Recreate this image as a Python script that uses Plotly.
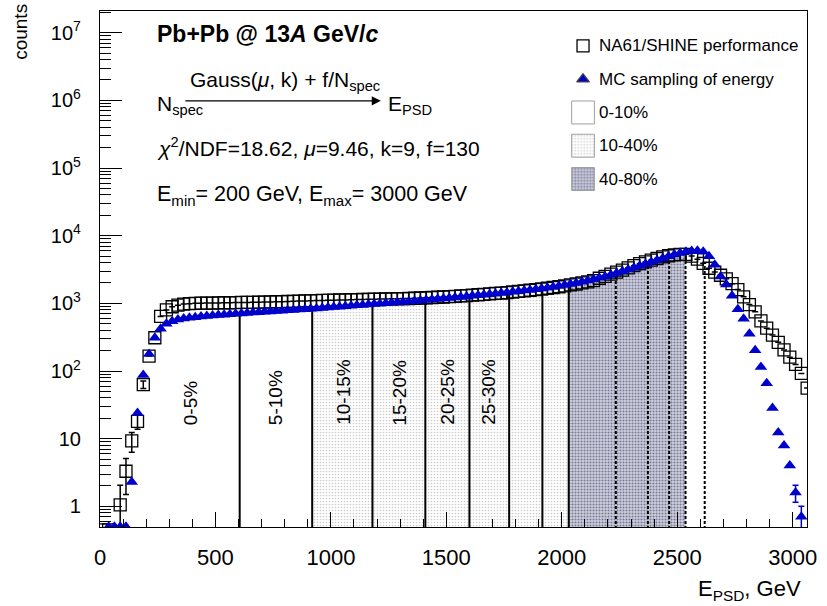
import numpy as np
import plotly.graph_objects as go

# ---------------- data ----------------
BIN_WIDTH = 25.0
N_BINS = 123
E = np.array([12.5 + BIN_WIDTH * i for i in range(N_BINS)])  # bin centres, GeV

DATA = [
    0.45, 0.45, None, 1.05, 3.3, 9.3, 18, 63, 166, 310,
    640, 800, 890, 940, 975, 990, 1000, 1005, 1010, 1010,
    1015, 1020, 1020, 1025, 1030, 1030, 1035, 1040, 1045, 1050,
    1055, 1060, 1065, 1070, 1080, 1085, 1090, 1100, 1105, 1110,
    1115, 1120, 1125, 1130, 1135, 1140, 1145, 1150, 1155, 1160,
    1165, 1170, 1175, 1180, 1190, 1200, 1210, 1220, 1230, 1240,
    1255, 1270, 1285, 1300, 1320, 1340, 1360, 1380, 1400, 1420,
    1445, 1470, 1500, 1530, 1560, 1595, 1630, 1670, 1715, 1760,
    1810, 1870, 1930, 2000, 2080, 2170, 2350, 2500, 2700, 2900,
    3100, 3350, 3600, 3850, 4100, 4350, 4600, 4850, 5050, 5200,
    5300, 5300, 5000, 4500, 3900, 3300, 2900, 2600, 2300, 1950,
    1600, 1250, 960, 750, 550, 430, 340, 265, 205, 160,
    125, 92, 56,
]
DATA_ERR_LOW = [0, 0, 0, 1.0, 1.8, 3.0, 4.2, 8.0]

MC = [
    None, 0.5, 0.5, 0.5, 0.5, 2.3, 24, 87, 178, 310,
    420, 500, 545, 575, 595, 612, 625, 638, 650, 660,
    670, 680, 690, 700, 710, 720, 730, 740, 750, 760,
    770, 780, 790, 800, 810, 820, 830, 842, 855, 868,
    880, 893, 906, 920, 934, 948, 962, 976, 990, 1005,
    1020, 1035, 1050, 1065, 1080, 1100, 1120, 1140, 1160, 1180,
    1200, 1220, 1240, 1265, 1290, 1315, 1340, 1365, 1390, 1420,
    1450, 1480, 1510, 1545, 1580, 1620, 1660, 1705, 1750, 1800,
    1860, 1925, 2000, 2080, 2170, 2270, 2380, 2500, 2640, 2800,
    2970, 3150, 3350, 3580, 3820, 4080, 4350, 4650, 4950, 5250,
    5550, 5800, 5950, 6000, 5800, 4950, 3720, 2500, 1900, 1290,
    820, 590, 355, 203, 115, 66, 28.5, 12.3, 7.9, 4.0,
    1.6, 0.7, None,
]
MC_ERR_TAIL = [0, 0, 0.45, 0.3, 0]

# centrality class boundaries (GeV)
SOLID_EDGES = [605, 919, 1180, 1409, 1600, 1772, 1916, 2030]
DASHED_EDGES = [2234, 2373, 2465, 2536, 2619]
CLASS_0_10 = (200, 919)
CLASS_10_40 = (919, 2030)
CLASS_40_80 = (2030, 2536)
CLASS_LABELS = ["0-5%", "5-10%", "10-15%", "15-20%", "20-25%", "25-30%"]
CLASS_LABEL_E = [390, 760, 1055, 1297, 1505, 1683]

LEGEND_LABELS = ["NA61/SHINE performance", "MC sampling of energy",
                 "0-10%", "10-40%", "40-80%"]

Y_TICKVALS = [1, 10, 1e2, 1e3, 1e4, 1e5, 1e6, 1e7]
Y_TICKTEXT = ["1", "10", "10<sup>2</sup>", "10<sup>3</sup>", "10<sup>4</sup>",
              "10<sup>5</sup>", "10<sup>6</sup>", "10<sup>7</sup>"]

# ---------------- helpers ----------------
FONT = "Liberation Sans, Arial, Helvetica, sans-serif"
W, H = 827, 606
ML, MR, MT, MB = 100, 12, 10, 79
PW, PH = W - ML - MR, H - MT - MB
FLOOR = 0.1

def px2x(px):
    return (px - ML) / PW

def px2y(py):
    return (H - MB - py) / PH

data_arr = np.array([np.nan if v is None else v for v in DATA], dtype=float)
mc_arr = np.array([np.nan if v is None else v for v in MC], dtype=float)
data_err = np.array(DATA_ERR_LOW + [0] * (N_BINS - len(DATA_ERR_LOW)), dtype=float)
mc_err = np.array([0] * (N_BINS - len(MC_ERR_TAIL)) + MC_ERR_TAIL, dtype=float)

top = np.fmin(data_arr, mc_arr)
ok = ~np.isnan(top)

def top_at(e):
    return 10 ** np.interp(e, E[ok], np.log10(top[ok]))

def region(a, b):
    m = ok & (E > a) & (E < b)
    xs = [a] + list(E[m]) + [b, b, a, a]
    ys = [top_at(a)] + list(top[m]) + [top_at(b), FLOOR, FLOOR, top_at(a)]
    return xs, ys

PAT_10_40 = dict(shape=".", fgcolor="#9a9a9a", bgcolor="#ffffff", size=3, solidity=0.25)
PAT_40_80 = dict(shape=".", fgcolor="#2a2a40", bgcolor="#cfcfe2", size=3, solidity=0.4)

fig = go.Figure()

# filled centrality classes
for (a, b), fc, pat in [(CLASS_0_10, "white", None),
                        (CLASS_10_40, "white", PAT_10_40),
                        (CLASS_40_80, "#cfcfe2", PAT_40_80)]:
    xs, ys = region(a, b)
    kw = dict(fillpattern=pat) if pat else {}
    fig.add_trace(go.Scatter(x=xs, y=ys, mode="lines", fill="toself",
                             fillcolor=fc, line=dict(width=0), hoverinfo="skip",
                             showlegend=False, **kw))

# boundary lines
for b in SOLID_EDGES:
    fig.add_trace(go.Scatter(x=[b, b], y=[FLOOR, top_at(b)], mode="lines",
                             line=dict(color="black", width=2), showlegend=False,
                             hoverinfo="skip"))
for b in DASHED_EDGES:
    fig.add_trace(go.Scatter(x=[b, b], y=[FLOOR, top_at(b)], mode="lines",
                             line=dict(color="black", width=2, dash="3px,2px"),
                             showlegend=False, hoverinfo="skip"))

# data squares
fig.add_trace(go.Scatter(
    x=E, y=data_arr, mode="markers", name=LEGEND_LABELS[0],
    marker=dict(symbol="square-open", size=12, color="black", line=dict(width=1.3)),
    error_y=dict(type="data", array=data_err, visible=True, color="black",
                 thickness=1.5, width=3),
    showlegend=False))

# MC triangles
fig.add_trace(go.Scatter(
    x=E, y=mc_arr, mode="markers", name=LEGEND_LABELS[1],
    marker=dict(symbol="triangle-up", size=11, color="rgb(0,0,205)"),
    error_y=dict(type="data", array=mc_err, visible=True, color="rgb(0,0,205)",
                 thickness=1.5, width=3),
    showlegend=False))

# ---------------- legend (drawn in its own small hidden axes) ----------------
for k, (sym, col) in enumerate([("square-open", "black"), ("triangle-up", "rgb(0,0,205)")]):
    fig.add_trace(go.Scatter(x=[18.5], y=[k + 1], mode="markers", xaxis="x2", yaxis="y2",
                             marker=dict(symbol=sym, size=12 if k == 0 else 11, color=col,
                                         line=dict(width=1.3)),
                             showlegend=False, hoverinfo="skip"))
for k, (fc, pat) in enumerate([("white", None), ("white", PAT_10_40), ("#cfcfe2", PAT_40_80)]):
    r = k + 3
    kw = dict(fillpattern=pat) if pat else {}
    fig.add_trace(go.Scatter(x=[7, 30, 30, 7, 7],
                             y=[r - 0.345, r - 0.345, r + 0.345, r + 0.345, r - 0.345],
                             mode="lines", fill="toself", fillcolor=fc,
                             line=dict(color="#a0a0a0", width=1), xaxis="x2", yaxis="y2",
                             showlegend=False, hoverinfo="skip", **kw))
for k, lab in enumerate(LEGEND_LABELS):
    fig.add_annotation(x=33, y=k + 1, xref="x2", yref="y2", text=lab, showarrow=False,
                       xanchor="left", yanchor="middle", font=dict(size=17, color="black"))

# ---------------- texts ----------------
ann = [
    dict(text="<b>Pb+Pb @ 13<i>A</i> GeV/<i>c</i></b>", x=px2x(156), y=px2y(33), size=23),
    dict(text="Gauss(<i>\u03bc</i>, k) + f/N<sub>spec</sub>", x=px2x(189), y=px2y(80), size=21),
    dict(text="N<sub>spec</sub>", x=px2x(156), y=px2y(104), size=21),
    dict(text="E<sub>PSD</sub>", x=px2x(389), y=px2y(104), size=21),
    dict(text="<i>\u03c7</i><sup>2</sup>/NDF=18.62, <i>\u03bc</i>=9.46, k=9, f=130",
         x=px2x(156), y=px2y(146), size=21),
    dict(text="E<sub>min</sub>= 200 GeV, E<sub>max</sub>= 3000 GeV",
         x=px2x(156), y=px2y(195), size=21.5),
]
for a in ann:
    fig.add_annotation(text=a["text"], x=a["x"], y=a["y"], xref="paper", yref="paper",
                       xanchor="left", yanchor="middle", showarrow=False,
                       font=dict(size=a["size"], color="black"))

# arrow N_spec -> E_PSD
fig.add_annotation(x=px2x(384), y=px2y(100), xref="paper", yref="paper",
                   ax=-197, ay=0, axref="pixel", ayref="pixel", text="",
                   showarrow=True, arrowhead=2, arrowsize=1.3, arrowwidth=1.4,
                   arrowcolor="black")

# centrality labels
for lab, e in zip(CLASS_LABELS, CLASS_LABEL_E):
    fig.add_annotation(x=e, y=np.log10(14.8), xref="x", yref="y", text=lab,
                       textangle=-90, showarrow=False, xanchor="center",
                       yanchor="bottom", font=dict(size=19, color="black"))

# axis titles
fig.add_annotation(text="counts", x=px2x(20), y=px2y(31), xref="paper", yref="paper",
                   xanchor="center", yanchor="middle",
                   textangle=-90, showarrow=False, font=dict(size=19, color="black"))
fig.add_annotation(text="E<sub>PSD</sub>, GeV", x=px2x(811), y=px2y(590), xref="paper",
                   yref="paper", xanchor="right", yanchor="middle", showarrow=False,
                   font=dict(size=22, color="black"))

fig.update_layout(
    width=W, height=H, margin=dict(l=ML, r=MR, t=MT, b=MB),
    plot_bgcolor="white", paper_bgcolor="white", showlegend=False,
    font=dict(family=FONT, color="black"),
    xaxis=dict(range=[0, 3062], tick0=0, dtick=500, ticks="inside", ticklen=15,
               tickwidth=1, tickcolor="black", showline=True, linecolor="black",
               linewidth=1.2, mirror=True, showgrid=False, zeroline=False,
               tickfont=dict(size=22), ticklabelstandoff=10,
               minor=dict(ticks="inside", ticklen=8, dtick=100, tickcolor="black",
                          showgrid=False)),
    yaxis=dict(type="log", range=[-0.305, 7.32], tickmode="array", tickvals=Y_TICKVALS,
               ticktext=Y_TICKTEXT, ticks="inside", ticklen=22, tickwidth=1,
               tickcolor="black", showline=True, linecolor="black", linewidth=1.2,
               mirror=True, showgrid=False, zeroline=False, tickfont=dict(size=20),
               ticklabelstandoff=14,
               minor=dict(ticks="inside", ticklen=11, dtick="D1", tickcolor="black",
                          showgrid=False)),
    xaxis2=dict(domain=[px2x(570), 1.0], range=[0, 245], anchor="y2", visible=False,
                fixedrange=True),
    yaxis2=dict(domain=[px2y(195), px2y(28.33)], range=[5.5, 0.5], anchor="x2",
                visible=False, fixedrange=True),
)

fig.write_html("out.html", config={"displayModeBar": False},
               post_script="document.body.style.margin='0';")
